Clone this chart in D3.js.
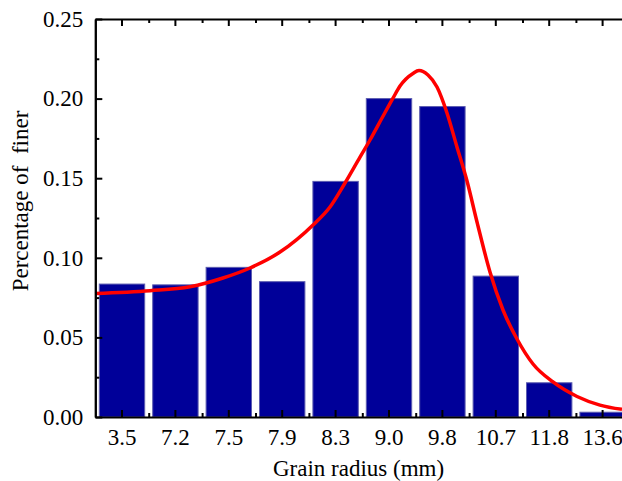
<!DOCTYPE html>
<html>
<head>
<meta charset="utf-8">
<script src="https://cdn.jsdelivr.net/npm/d3@7"></script>
<style>
  html, body { margin: 0; padding: 0; background: #fff; }
  svg { display: block; }
  text { font-family: "Liberation Serif", "Times New Roman", serif; fill: #000; }
</style>
</head>
<body>
<svg id="chart" width="622" height="481"></svg>
<script>
// Grain radius classes (mm) and share of each class
const categories = ["3.5", "7.2", "7.5", "7.9", "8.3", "9.0", "9.8", "10.7", "11.8", "13.6"];
const fractions = [0.0835, 0.083, 0.094, 0.085, 0.148, 0.200, 0.195, 0.0885, 0.0215, 0.003];

// Fitted distribution curve, sampled along the class axis (class index, value)
const fitIndex = [-0.506, 0.524, 1.273, 1.891, 2.397, 2.959, 3.577, 3.895, 4.176, 4.457, 4.644,
                  4.869, 5.075, 5.206, 5.449, 5.562, 5.730, 5.899, 6.086, 6.273, 6.461, 6.648,
                  6.891, 7.135, 7.397, 7.697, 8.071, 8.521, 8.951, 9.363];
const fitValue = [0.0776, 0.0793, 0.0818, 0.0873, 0.0936, 0.1036, 0.1206, 0.1319, 0.1470, 0.1633, 0.1740,
                  0.1878, 0.2003, 0.2079, 0.2158, 0.2176, 0.2148, 0.2073, 0.1910, 0.1696, 0.1482, 0.1225,
                  0.0911, 0.0672, 0.0490, 0.0333, 0.0220, 0.0129, 0.0075, 0.0048];

// Axis ticks
const yMajor = [0, 0.05, 0.10, 0.15, 0.20, 0.25];
const yMinor = [0.025, 0.075, 0.125, 0.175, 0.225];

const svg = d3.select("#chart");
const plotLeft = 95.3, plotRight = 629.3, plotTop = 19, plotBottom = 417;
const fontSize = 23;

const x = d3.scaleBand().domain(categories).range([plotLeft, plotRight])
  .paddingInner(0.15).paddingOuter(0.075);
const xi = d3.scaleLinear().domain([-0.5, categories.length - 0.5]).range([plotLeft, plotRight]);
const y = d3.scaleLinear().domain([0, 0.25]).range([plotBottom, plotTop]);

// Bars
svg.append("g").selectAll("rect").data(categories).join("rect")
  .attr("x", d => x(d))
  .attr("width", x.bandwidth())
  .attr("y", (d, i) => y(fractions[i]))
  .attr("height", (d, i) => y(0) - y(fractions[i]))
  .attr("fill", "#000099")
  .attr("stroke", "#5c5cb0")
  .attr("stroke-width", 1);

// Fitted curve
const pts = fitIndex.map((v, i) => [v, fitValue[i]]);
svg.append("path")
  .datum(pts)
  .attr("fill", "none")
  .attr("stroke", "#ff0000")
  .attr("stroke-width", 3.5)
  .attr("d", d3.line().x(d => xi(d[0])).y(d => y(d[1])).curve(d3.curveMonotoneX));

function styleAxis(g) {
  g.selectAll(".domain").attr("stroke", "#000").attr("stroke-width", 2);
  g.selectAll(".tick line").attr("stroke", "#000").attr("stroke-width", 2);
  g.selectAll("text").attr("font-family", "Liberation Serif, Times New Roman, serif")
    .attr("font-size", fontSize).attr("fill", "#000");
}

const minorX = d3.range(categories.length).map(i => i + 0.5);

// Left axis
svg.append("g").attr("transform", `translate(${plotLeft},0)`)
  .call(d3.axisLeft(y).tickValues(yMajor).tickSize(-7).tickSizeOuter(0).tickPadding(12)
    .tickFormat(d3.format(".2f")))
  .call(styleAxis);
svg.append("g").attr("transform", `translate(${plotLeft},0)`)
  .call(d3.axisLeft(y).tickValues(yMinor).tickSize(-4).tickSizeOuter(0).tickFormat(""))
  .call(styleAxis);

// Bottom axis
svg.append("g").attr("transform", `translate(0,${plotBottom})`)
  .call(d3.axisBottom(x).tickSize(-7).tickSizeOuter(0).tickPadding(12))
  .call(styleAxis);
svg.append("g").attr("transform", `translate(0,${plotBottom})`)
  .call(d3.axisBottom(xi).tickValues(minorX).tickSize(-4).tickSizeOuter(0).tickFormat(""))
  .call(g => g.select(".domain").remove())
  .call(styleAxis);

// Top axis
svg.append("g").attr("transform", `translate(0,${plotTop})`)
  .call(d3.axisTop(x).tickSize(-7).tickSizeOuter(0).tickFormat(""))
  .call(styleAxis);
svg.append("g").attr("transform", `translate(0,${plotTop})`)
  .call(d3.axisTop(xi).tickValues(minorX).tickSize(-4).tickSizeOuter(0).tickFormat(""))
  .call(g => g.select(".domain").remove())
  .call(styleAxis);

// Axis titles
svg.append("text")
  .attr("x", 358.5).attr("y", 476)
  .attr("text-anchor", "middle").attr("font-size", fontSize)
  .text("Grain radius (mm)");

svg.append("text")
  .attr("transform", "translate(28,201) rotate(-90)")
  .attr("text-anchor", "middle").attr("font-size", fontSize)
  .attr("xml:space", "preserve").style("white-space", "pre")
  .text("Percentage of  finer");
</script>
</body>
</html>
